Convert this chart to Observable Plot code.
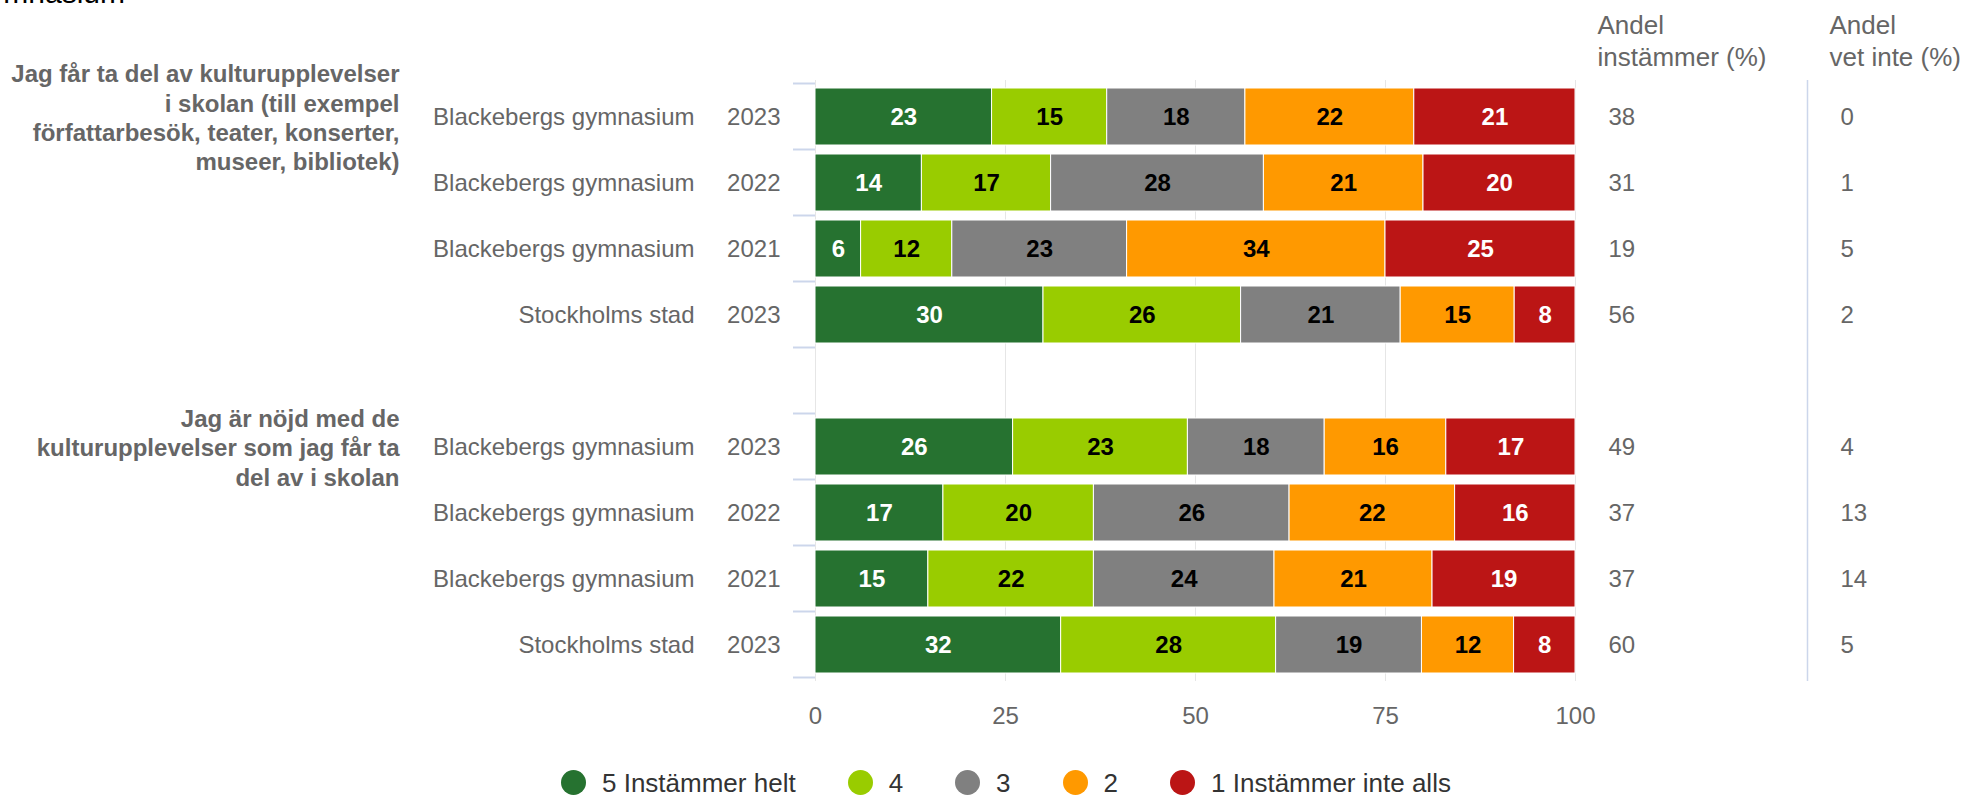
<!DOCTYPE html>
<html><head><meta charset="utf-8">
<script src="https://cdn.jsdelivr.net/npm/d3@7"></script>
<script src="https://cdn.jsdelivr.net/npm/@observablehq/plot@0.6"></script>
<style>
body{margin:0;background:#fff;font-family:"Liberation Sans",Arial,sans-serif;overflow:hidden}
#wrap{position:relative;width:1967px;height:795px;overflow:hidden}
#title{position:absolute;right:1842px;top:-22px;font-size:30px;line-height:30px;color:#000;white-space:nowrap}
#chart{position:absolute;left:0;top:0}
#legend{position:absolute;left:561px;top:770px;display:flex;align-items:center;gap:52px;font-size:26px;line-height:24px;color:#333}
.item{display:flex;align-items:center;white-space:nowrap}
.sw{width:25px;height:25px;border-radius:50%;margin-right:16px}
</style></head><body>
<div id="wrap"><div id="title">Blackebergs gymnasium</div><div id="chart"></div><div id="legend"></div></div>
<script>
// ---- data ----
const rowKeys = ["q1_bg23","q1_bg22","q1_bg21","q1_sth23","spacer","q2_bg23","q2_bg22","q2_bg21","q2_sth23"];
const dataRows = ["q1_bg23","q1_bg22","q1_bg21","q1_sth23","q2_bg23","q2_bg22","q2_bg21","q2_sth23"];
const units = ["Blackebergs gymnasium","Blackebergs gymnasium","Blackebergs gymnasium","Stockholms stad",
               "Blackebergs gymnasium","Blackebergs gymnasium","Blackebergs gymnasium","Stockholms stad"];
const years = ["2023","2022","2021","2023","2023","2022","2021","2023"];
const questions = ["Jag får ta del av kulturupplevelser\ni skolan (till exempel\nförfattarbesök, teater, konserter,\nmuseer, bibliotek)",
                   "Jag är nöjd med de\nkulturupplevelser som jag får ta\ndel av i skolan"];
const questionRows = ["q1_bg23","q2_bg23"];
const categories = ["5 Instämmer helt","4","3","2","1 Instämmer inte alls"];
const colors = ["#267230","#99cc00","#808080","#ff9900","#bb1515"];
const whiteLabelCats = ["5 Instämmer helt","1 Instämmer inte alls"];
const v5 = [23,14,6,30,26,17,15,32];
const v4 = [15,17,12,26,23,20,22,28];
const v3 = [18,28,23,21,18,26,24,19];
const v2 = [22,21,34,15,16,22,21,12];
const v1 = [21,20,25,8,17,16,19,8];
const andelInstammer = [38,31,19,56,49,37,37,60];
const andelVetInte = [0,1,5,2,4,13,14,5];
const headers = ["Andel\ninstämmer (%)","Andel\nvet inte (%)"];
const xTicks = [0,0.25,0.5,0.75,1];

// ---- tables ----
const series = [v5,v4,v3,v2,v1];
const table = dataRows.map((row,i)=>({row, unit:units[i], year:years[i], agree:andelInstammer[i], dontKnow:andelVetInte[i]}));
const long = dataRows.flatMap((row,i)=>categories.map((cat,j)=>({row, cat, value:series[j][i]})));
const groups = questionRows.map((row,i)=>({row, text:questions[i]}));

const font = "'Liberation Sans', Arial, sans-serif";
const stackOpts = {x:"value", y:"row", z:"cat", order:categories, offset:"normalize"};

const plot = Plot.plot({
  width:1967, height:750,
  marginLeft:815, marginRight:392, marginTop:80, marginBottom:69,
  style:{fontFamily:font, fontSize:"24px", color:"#666", background:"transparent", overflow:"visible"},
  x:{domain:[0,1], axis:null, label:null},
  y:{type:"band", domain:rowKeys, paddingInner:0.14, paddingOuter:0.07, axis:null},
  color:{domain:categories, range:colors},
  marks:[
    Plot.ruleX(xTicks, {stroke:"#e6e6e6", strokeOpacity:1, strokeWidth:1}),
    Plot.ruleX([1], {dx:232, stroke:"#ccd6eb", strokeOpacity:1, strokeWidth:1.5}),
    Plot.barX(long, Plot.stackX({...stackOpts, fill:"cat", stroke:"#fff", strokeWidth:1})),
    Plot.text(long, Plot.stackX({...stackOpts, text:d=>whiteLabelCats.includes(d.cat)?String(d.value):null, fill:"#fff", fontWeight:"bold", fontSize:24})),
    Plot.text(long, Plot.stackX({...stackOpts, text:d=>whiteLabelCats.includes(d.cat)?null:String(d.value), fill:"#000", fontWeight:"bold", fontSize:24})),
    Plot.text(table, {y:"row", text:"unit", frameAnchor:"left", dx:-121, textAnchor:"end", fontSize:24, fill:"#666"}),
    Plot.text(table, {y:"row", text:"year", frameAnchor:"left", dx:-35, textAnchor:"end", fontSize:24, fill:"#666"}),
    Plot.text(groups, {y:"row", text:"text", frameAnchor:"left", dx:-416, textAnchor:"end", fontWeight:"bold", fontSize:24, lineHeight:1.22, fill:"#666"}),
    Plot.text(table, {y:"row", text:"agree", frameAnchor:"right", dx:33, textAnchor:"start", fontSize:24, fill:"#666"}),
    Plot.text(table, {y:"row", text:"dontKnow", frameAnchor:"right", dx:265, textAnchor:"start", fontSize:24, fill:"#666"}),
    Plot.text([headers[0]], {text:d=>d, frameAnchor:"top-right", dx:22, dy:-69, textAnchor:"start", lineAnchor:"top", fontSize:26, lineHeight:1.22, fill:"#666"}),
    Plot.text([headers[1]], {text:d=>d, frameAnchor:"top-right", dx:254, dy:-69, textAnchor:"start", lineAnchor:"top", fontSize:26, lineHeight:1.22, fill:"#666"}),
    Plot.axisX({ticks:xTicks, tickFormat:d=>Math.round(d*100), tickSize:0, tickPadding:25, fontSize:24, fill:"#666", label:null})
  ]
});

// band boundary ticks on the category axis, from the plot's own y scale
const ys = plot.scale("y"), xs = plot.scale("x");
const half = (ys.step - ys.bandwidth)/2;
const bounds = ys.domain.map(k=>ys.apply(k)-half);
bounds.push(ys.apply(ys.domain[ys.domain.length-1]) + ys.bandwidth + half);
const x0 = xs.apply(0);
const svg = d3.select(plot.tagName.toLowerCase()==="svg" ? plot : plot.querySelector("svg"));
svg.append("g").selectAll("line").data(bounds).join("line")
  .attr("x1", x0-22).attr("x2", x0).attr("y1", d=>d).attr("y2", d=>d)
  .attr("stroke", "#ccd6eb").attr("stroke-width", 2);

document.getElementById("chart").appendChild(plot);

const legend = d3.select("#legend");
const items = legend.selectAll(".item").data(categories).join("div").attr("class","item");
items.append("span").attr("class","sw").style("background", (d,i)=>colors[i]);
items.append("span").text(d=>d);
</script>
</body></html>
